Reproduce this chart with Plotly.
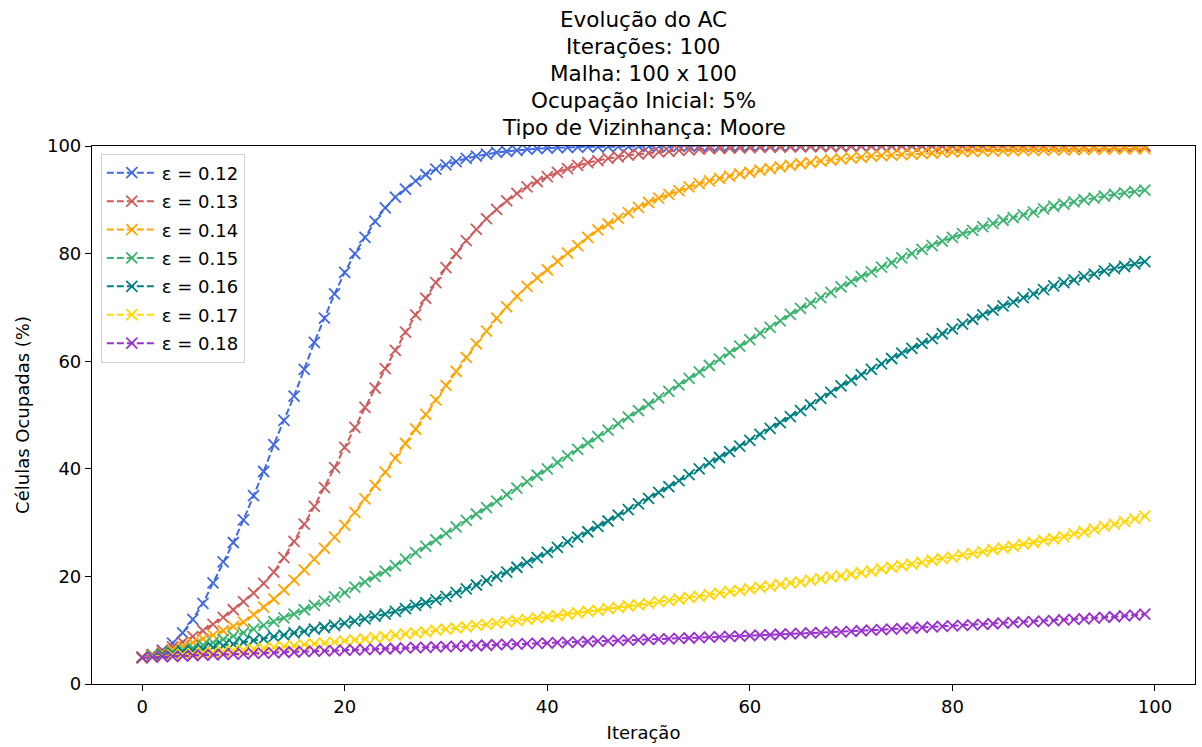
import plotly.graph_objects as go

iteracoes = list(range(100))

eps_labels = ["ε = 0.12", "ε = 0.13", "ε = 0.14", "ε = 0.15", "ε = 0.16", "ε = 0.17", "ε = 0.18"]
cores = ["#4169E1", "#CD5C5C", "#FFA500", "#3CB371", "#008080", "#FFD700", "#9932CC"]

eps_012 = [5.0, 5.4, 6.3, 7.6, 9.5, 12.0, 15.0, 18.8, 22.7, 26.3,
           30.5, 35.0, 39.5, 44.5, 49.0, 53.5, 58.5, 63.5, 68.0, 72.5,
           76.5, 80.0, 83.0, 86.0, 88.5, 90.5, 92.0, 93.5, 94.7, 95.7,
           96.5, 97.1, 97.7, 98.1, 98.5, 98.8, 99.0, 99.2, 99.4, 99.5,
           99.6, 99.7, 99.75, 99.8, 99.85, 99.85, 99.9, 99.9, 99.9, 99.95,
           99.95, 99.95, 99.95, 100.0, 100.0, 100.0, 100.0, 100.0, 100.0, 100.0,
           100.0, 100.0, 100.0, 100.0, 100.0, 100.0, 100.0, 100.0, 100.0, 100.0,
           100.0, 100.0, 100.0, 100.0, 100.0, 100.0, 100.0, 100.0, 100.0, 100.0,
           100.0, 100.0, 100.0, 100.0, 100.0, 100.0, 100.0, 100.0, 100.0, 100.0,
           100.0, 100.0, 100.0, 100.0, 100.0, 100.0, 100.0, 100.0, 100.0, 100.0]

eps_013 = [5.0, 5.5, 6.1, 6.9, 7.8, 8.8, 9.9, 11.1, 12.4, 13.8,
           15.3, 16.9, 18.7, 20.8, 23.5, 26.5, 29.7, 33.0, 36.5, 40.2,
           44.0, 47.7, 51.4, 55.0, 58.6, 62.0, 65.4, 68.6, 71.7, 74.6,
           77.4, 80.0, 82.4, 84.5, 86.5, 88.2, 89.8, 91.2, 92.4, 93.4,
           94.3, 95.1, 95.8, 96.4, 96.9, 97.3, 97.7, 98.0, 98.3, 98.5,
           98.7, 98.9, 99.0, 99.2, 99.3, 99.4, 99.5, 99.55, 99.6, 99.65,
           99.7, 99.75, 99.8, 99.8, 99.85, 99.85, 99.9, 99.9, 99.9, 99.9,
           99.95, 99.95, 99.95, 99.95, 99.95, 100.0, 100.0, 100.0, 100.0, 100.0,
           100.0, 100.0, 100.0, 100.0, 100.0, 100.0, 100.0, 100.0, 100.0, 100.0,
           100.0, 100.0, 100.0, 100.0, 100.0, 100.0, 100.0, 100.0, 100.0, 100.0]

eps_014 = [4.8, 5.3, 5.8, 6.4, 7.0, 7.7, 8.4, 9.1, 9.9, 10.7,
           11.5, 12.9, 14.3, 15.8, 17.5, 19.3, 21.2, 23.2, 25.2, 27.3,
           29.5, 31.9, 34.4, 36.9, 39.4, 42.0, 44.7, 47.4, 50.1, 52.8,
           55.5, 58.1, 60.7, 63.2, 65.6, 68.0, 70.1, 72.1, 73.9, 75.5,
           77.0, 78.6, 80.1, 81.5, 83.0, 84.4, 85.5, 86.6, 87.6, 88.6,
           89.5, 90.3, 91.0, 91.7, 92.4, 93.0, 93.5, 94.0, 94.4, 94.8,
           95.1, 95.5, 95.8, 96.1, 96.4, 96.7, 96.9, 97.2, 97.4, 97.6,
           97.8, 97.9, 98.1, 98.2, 98.3, 98.4, 98.5, 98.6, 98.7, 98.8,
           98.9, 98.95, 99.0, 99.05, 99.1, 99.1, 99.15, 99.2, 99.2, 99.25,
           99.3, 99.3, 99.35, 99.35, 99.4, 99.4, 99.45, 99.45, 99.5, 99.5]

eps_015 = [5.0, 5.3, 5.6, 5.9, 6.3, 6.7, 7.2, 7.7, 8.3, 8.9,
           9.5, 10.2, 10.9, 11.6, 12.3, 13.0, 13.8, 14.6, 15.4, 16.2,
           17.0, 18.0, 19.0, 20.0, 21.0, 22.0, 23.2, 24.4, 25.6, 26.8,
           28.0, 29.2, 30.4, 31.6, 32.8, 34.0, 35.2, 36.4, 37.6, 38.8,
           40.0, 41.2, 42.4, 43.6, 44.8, 46.0, 47.2, 48.4, 49.6, 50.8,
           52.0, 53.2, 54.4, 55.6, 56.8, 58.0, 59.2, 60.4, 61.6, 62.8,
           64.0, 65.2, 66.3, 67.5, 68.7, 69.8, 70.8, 71.8, 72.8, 73.8,
           74.8, 75.7, 76.6, 77.5, 78.3, 79.2, 80.0, 80.8, 81.5, 82.3,
           83.0, 83.7, 84.3, 85.0, 85.6, 86.2, 86.7, 87.2, 87.7, 88.3,
           88.8, 89.2, 89.6, 90.0, 90.3, 90.7, 91.0, 91.3, 91.5, 91.8]

eps_016 = [5.0, 5.2, 5.5, 5.7, 6.0, 6.2, 6.5, 6.8, 7.1, 7.4,
           7.8, 8.1, 8.4, 8.8, 9.1, 9.5, 9.8, 10.2, 10.5, 10.9,
           11.3, 11.7, 12.1, 12.6, 13.0, 13.5, 14.0, 14.6, 15.1, 15.7,
           16.3, 17.0, 17.7, 18.4, 19.2, 20.0, 20.8, 21.7, 22.6, 23.5,
           24.5, 25.4, 26.4, 27.3, 28.3, 29.3, 30.3, 31.4, 32.4, 33.5,
           34.5, 35.6, 36.7, 37.8, 38.9, 40.0, 41.1, 42.1, 43.2, 44.2,
           45.3, 46.4, 47.5, 48.6, 49.7, 50.8, 51.9, 53.1, 54.2, 55.4,
           56.5, 57.5, 58.5, 59.5, 60.5, 61.5, 62.4, 63.3, 64.2, 65.1,
           66.0, 66.9, 67.8, 68.6, 69.5, 70.3, 71.0, 71.8, 72.5, 73.3,
           74.0, 74.6, 75.1, 75.7, 76.2, 76.8, 77.2, 77.6, 78.1, 78.5]

eps_017 = [5.0, 5.1, 5.2, 5.4, 5.5, 5.6, 5.8, 5.9, 6.0, 6.2,
           6.3, 6.5, 6.6, 6.8, 7.0, 7.1, 7.3, 7.5, 7.6, 7.8,
           8.0, 8.2, 8.4, 8.6, 8.8, 9.1, 9.3, 9.5, 9.7, 10.0,
           10.2, 10.4, 10.6, 10.9, 11.1, 11.3, 11.6, 11.8, 12.0, 12.3,
           12.5, 12.7, 13.0, 13.2, 13.5, 13.7, 14.0, 14.2, 14.5, 14.7,
           15.0, 15.3, 15.5, 15.8, 16.1, 16.3, 16.6, 16.9, 17.2, 17.4,
           17.7, 18.0, 18.2, 18.5, 18.8, 19.0, 19.3, 19.6, 19.9, 20.1,
           20.4, 20.7, 21.0, 21.4, 21.7, 22.0, 22.3, 22.6, 23.0, 23.3,
           23.6, 24.0, 24.3, 24.6, 25.0, 25.3, 25.6, 26.0, 26.3, 26.7,
           27.0, 27.4, 27.9, 28.3, 28.8, 29.3, 29.7, 30.2, 30.7, 31.2]

eps_018 = [4.9, 5.0, 5.1, 5.15, 5.2, 5.3, 5.35, 5.4, 5.5, 5.55,
           5.6, 5.7, 5.75, 5.8, 5.9, 5.95, 6.0, 6.1, 6.15, 6.2,
           6.3, 6.35, 6.4, 6.5, 6.55, 6.6, 6.7, 6.75, 6.8, 6.9,
           6.95, 7.0, 7.1, 7.15, 7.2, 7.3, 7.35, 7.4, 7.5, 7.55,
           7.6, 7.7, 7.75, 7.8, 7.9, 7.95, 8.0, 8.1, 8.15, 8.2,
           8.3, 8.35, 8.4, 8.5, 8.55, 8.6, 8.7, 8.75, 8.85, 8.9,
           9.0, 9.1, 9.15, 9.25, 9.3, 9.4, 9.5, 9.55, 9.65, 9.7,
           9.8, 9.9, 10.0, 10.1, 10.2, 10.3, 10.4, 10.5, 10.6, 10.7,
           10.8, 10.9, 11.0, 11.1, 11.2, 11.3, 11.4, 11.5, 11.6, 11.7,
           11.8, 11.9, 12.0, 12.1, 12.25, 12.4, 12.5, 12.65, 12.8, 13.0]

series = [eps_012, eps_013, eps_014, eps_015, eps_016, eps_017, eps_018]

titulo = ["Evolução do AC", "Iterações: 100", "Malha: 100 x 100",
          "Ocupação Inicial: 5%", "Tipo de Vizinhança: Moore"]

FONT = "DejaVu Sans"

fig = go.Figure()
for lab, cor, ys in zip(eps_labels, cores, series):
    fig.add_trace(go.Scatter(
        x=iteracoes, y=ys, name=lab, legendgroup=lab, mode="lines+markers",
        line=dict(color=cor, width=2, dash="7px,3px"),
        marker=dict(symbol="x-thin-open", size=11, line=dict(color=cor, width=1.8)),
    ))

W, H = 1202, 747
ml, mr, mt, mb = 92, 7, 146, 63
plot_h = H - mt - mb

line_px = [19, 46, 73, 100, 127]
for txt, py in zip(titulo, line_px):
    fig.add_annotation(text=txt, xref="paper", yref="paper", x=0.5,
                       y=(H - mb - py) / plot_h, xanchor="center", yanchor="middle",
                       showarrow=False, font=dict(family=FONT, size=21.5, color="black"))

axis_common = dict(
    showline=True, linecolor="black", linewidth=1.2, mirror=True,
    ticks="outside", ticklen=6, tickwidth=1.2, tickcolor="black",
    showgrid=False, zeroline=False,
    tickfont=dict(family=FONT, size=18, color="black"),
)

fig.update_layout(
    width=W, height=H,
    margin=dict(l=ml, r=mr, t=mt, b=mb),
    paper_bgcolor="white", plot_bgcolor="white",
    font=dict(family=FONT, color="black"),
    showlegend=True,
    legend=dict(x=0.008, y=0.986, xanchor="left", yanchor="top",
                bgcolor="rgba(255,255,255,0.8)", bordercolor="#d0d0d0", borderwidth=1,
                font=dict(family=FONT, size=18, color="black"),
                itemwidth=50, tracegroupgap=2),
    xaxis=dict(range=[-4.95, 103.95], tickvals=[0, 20, 40, 60, 80, 100],
               title=dict(text="Iteração", font=dict(family=FONT, size=18), standoff=10),
               **axis_common),
    yaxis=dict(range=[0, 100], tickvals=[0, 20, 40, 60, 80, 100],
               title=dict(text="Células Ocupadas (%)", font=dict(family=FONT, size=18), standoff=12),
               **axis_common),
)

fig.write_html("out.html")
